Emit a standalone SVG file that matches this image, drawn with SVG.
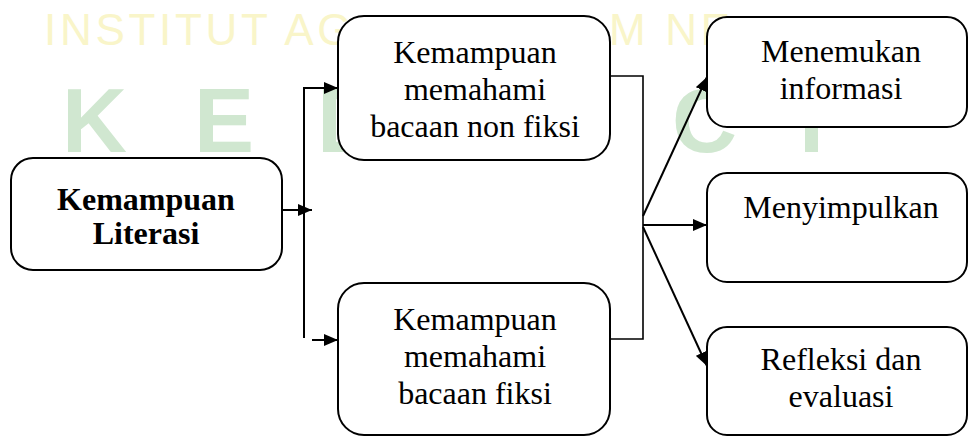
<svg xmlns="http://www.w3.org/2000/svg" width="968" height="437" viewBox="0 0 968 437">
  <style>
    .box { fill: #ffffff; stroke: #000000; stroke-width: 2; }
    .t { font-family: "Liberation Serif", "Times New Roman", serif; font-size: 32px; fill: #000000; text-anchor: middle; }
    .b { font-weight: bold; }
    .conn { fill: none; stroke: #000000; stroke-width: 2; }
    .thin { fill: none; stroke: #000000; stroke-width: 1.6; }
    .wm1 { font-family: "Liberation Sans", Arial, sans-serif; font-size: 44px; fill: #f9f5c9; letter-spacing: 3.7px; }
    .wm2 { font-family: "Liberation Sans", Arial, sans-serif; font-size: 90px; font-weight: bold; fill: #d0e7d0; }
  </style>
  <defs>
    <marker id="ah" viewBox="0 0 14 12" refX="14" refY="6" markerWidth="14" markerHeight="12" markerUnits="userSpaceOnUse" orient="auto">
      <path d="M0,0 L14,6 L0,12 z" fill="#000000"/>
    </marker>
  </defs>
  <rect width="968" height="437" fill="#ffffff"/>

  <g id="watermark">
    <text class="wm1" x="44" y="45">INSTITUT AG</text>
    <text class="wm1" x="609" y="45">M NE</text>
    <text class="wm2" x="62" y="152">K</text>
    <text class="wm2" x="194" y="152">E</text>
    <text class="wm2" x="317" y="152">D</text>
    <text class="wm2" x="672" y="152">C</text>
    <text class="wm2" x="799" y="152">I</text>
  </g>

  <g id="connectors">
    <line class="conn" x1="282" y1="210" x2="312" y2="210" marker-end="url(#ah)"/>
    <polyline class="conn" points="304,338 304,88 338,88" marker-end="url(#ah)"/>
    <line class="conn" x1="312" y1="340" x2="338" y2="340" marker-end="url(#ah)"/>
    <polyline class="thin" points="610,76 643,76 643,339 610,339"/>
    <line class="conn" x1="643" y1="216" x2="707" y2="77" marker-end="url(#ah)"/>
    <line class="conn" x1="643" y1="225" x2="707" y2="225" marker-end="url(#ah)"/>
    <line class="conn" x1="643" y1="227" x2="707" y2="366" marker-end="url(#ah)"/>
  </g>

  <g id="literasi">
    <rect class="box" x="11" y="158" width="271" height="112" rx="22"/>
    <text class="t b" x="146" y="210">Kemampuan</text>
    <text class="t b" x="146" y="244">Literasi</text>
  </g>

  <g id="nonfiksi">
    <rect class="box" x="338" y="16" width="272" height="144" rx="26"/>
    <text class="t" x="475" y="63">Kemampuan</text>
    <text class="t" x="475" y="100">memahami</text>
    <text class="t" x="475" y="137">bacaan non fiksi</text>
  </g>

  <g id="fiksi">
    <rect class="box" x="338" y="283" width="272" height="152" rx="26"/>
    <text class="t" x="475" y="330">Kemampuan</text>
    <text class="t" x="475" y="367">memahami</text>
    <text class="t" x="475" y="404">bacaan fiksi</text>
  </g>

  <g id="menemukan">
    <rect class="box" x="707" y="17" width="260" height="110" rx="20"/>
    <text class="t" x="841" y="62">Menemukan</text>
    <text class="t" x="841" y="99">informasi</text>
  </g>

  <g id="menyimpulkan">
    <rect class="box" x="707" y="173" width="260" height="109" rx="20"/>
    <text class="t" x="841" y="218">Menyimpulkan</text>
  </g>

  <g id="refleksi">
    <rect class="box" x="707" y="327" width="260" height="108" rx="20"/>
    <text class="t" x="841" y="370">Refleksi dan</text>
    <text class="t" x="841" y="407">evaluasi</text>
  </g>
</svg>
